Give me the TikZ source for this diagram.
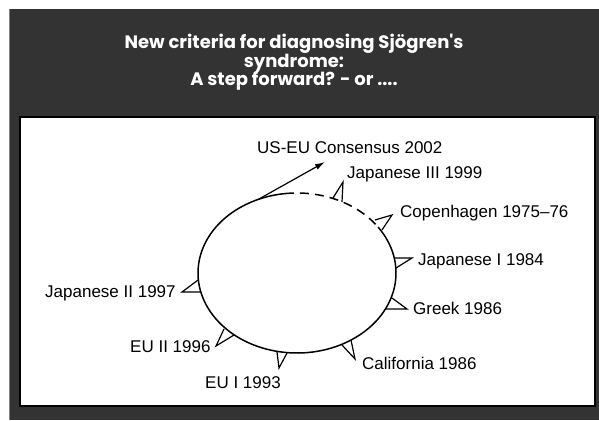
\documentclass[tikz,border=0pt]{standalone}
\usepackage{fontspec}
\setmainfont{Liberation Sans}
\newfontfamily\titlefont{Poppins}
\usetikzlibrary{arrows.meta,calc}
\definecolor{framegray}{RGB}{51,51,51}
\begin{document}
\begin{tikzpicture}[x=1pt,y=-1pt,
  lbl/.style={font=\fontsize{17}{20}\selectfont, inner sep=0pt, anchor=base west, text=black},
  ttl/.style={font=\titlefont\bfseries\fontsize{18}{20}\selectfont, inner sep=0pt, anchor=base, text=white},
  tick/.style={line width=1.2pt, line join=miter},
  curve/.style={line width=1.5pt},
  dashcurve/.style={line width=1.5pt, dash pattern=on 9pt off 6pt}]
\useasboundingbox (0,0) rectangle (599,420);
\fill[white] (0,0) rectangle (599,420);
\fill[framegray] (9,9) rectangle (599,420);
\draw[gray, line width=0.8pt] (9.4,9) -- (9.4,420);
\draw[black, line width=1.5pt, fill=white] (20,117) rectangle (595,406);
% title
\node[ttl] (title1) at (294,48.5) {New criteria for diagnosing Sjögren's};
\node[ttl] (title2) at (294,67) {syndrome:};
\node[ttl] (title3) at (294,85.5) {A step forward? - or ....};
% ellipse
\coordinate (C) at (297,273);
\draw[curve] (C) ++(-35:99 and 80) arc[start angle=-35, end angle=263, x radius=99, y radius=80];
\draw[dashcurve] (C) ++(263:99 and 80) arc[start angle=263, end angle=325, x radius=99, y radius=80];
% arrow
\coordinate (a0) at ($(C)+(-113:99 and 80)$);
\coordinate (tip) at (325,162);
\draw[line width=1.2pt, -{Latex[length=10pt,width=6pt]}] (a0) -- (tip);
% labels
\node[lbl] (useu) at (257,153) {US-EU Consensus 2002};
\node[lbl] (jap3) at (347,178) {Japanese III 1999};
\node[lbl] (cop) at (400,217) {Copenhagen 1975–76};
\node[lbl] (jap1) at (418,265) {Japanese I 1984};
\node[lbl] (greek) at (413,314) {Greek 1986};
\node[lbl] (cal) at (362,369) {California 1986};
\node[lbl] (eu1) at (205,388) {EU I 1993};
\node[lbl] (eu2) at (130,352) {EU II 1996};
\node[lbl] (jap2) at (45,297) {Japanese II 1997};
% ticks
\draw[tick] (333,198) -- (343,182) -- (342,202);
\draw[tick] (375,220) -- (392,215) -- (382,230);
\draw[tick] (395,258) -- (412,258) -- (396,268);
\draw[tick] (392,298) -- (407,309) -- (385,309);
\draw[tick] (342,345) -- (355,359) -- (351,340);
\draw[tick] (277,352) -- (279,368) -- (287,353);
\draw[tick] (224,329) -- (216,346) -- (234,335);
\draw[tick] (198,280) -- (182,292) -- (201,292);
\end{tikzpicture}
\end{document}
